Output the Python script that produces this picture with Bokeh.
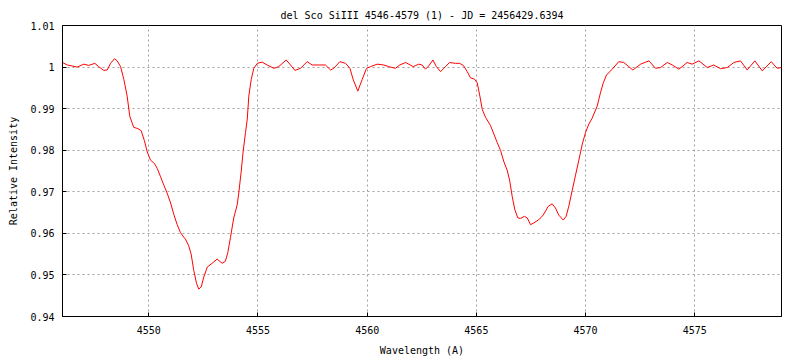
from bokeh.plotting import figure
from bokeh.models import FixedTicker, Range1d, CustomJSTickFormatter
from bokeh.embed import file_html
from bokeh.resources import INLINE

title_text = "del Sco SiIII 4546-4579 (1) - JD = 2456429.6394"
x_label = "Wavelength (A)"
y_label = "Relative Intensity"

x_ticks = [4550, 4555, 4560, 4565, 4570, 4575]
y_ticks = [0.94, 0.95, 0.96, 0.97, 0.98, 0.99, 1.00, 1.01]

wavelength = [
    4546.05, 4546.27, 4546.72, 4547.03, 4547.25, 4547.53, 4547.71, 4547.94, 4548.10, 4548.25,
    4548.43, 4548.55, 4548.71, 4548.86, 4549.01, 4549.13, 4549.31, 4549.50, 4549.65, 4549.80,
    4549.93, 4550.08, 4550.26, 4550.39, 4550.54, 4550.69, 4550.84, 4551.00, 4551.15, 4551.30,
    4551.45, 4551.60, 4551.68, 4551.83, 4551.94, 4552.06, 4552.19, 4552.29, 4552.40, 4552.52,
    4552.68, 4552.90, 4553.13, 4553.36, 4553.51, 4553.62, 4553.74, 4553.89, 4554.05, 4554.12,
    4554.23, 4554.32, 4554.43, 4554.51, 4554.58, 4554.69, 4554.81, 4554.97, 4555.19, 4555.42,
    4555.73, 4555.95, 4556.29, 4556.49, 4556.69, 4556.95, 4557.25, 4557.48, 4557.79, 4558.09,
    4558.32, 4558.47, 4558.75, 4559.01, 4559.21, 4559.36, 4559.57, 4559.77, 4559.97, 4560.15,
    4560.46, 4560.76, 4560.99, 4561.30, 4561.49, 4561.76, 4562.11, 4562.36, 4562.52, 4562.67,
    4562.82, 4563.01, 4563.17, 4563.36, 4563.51, 4563.77, 4564.04, 4564.24, 4564.42, 4564.58,
    4564.73, 4564.91, 4565.04, 4565.16, 4565.27, 4565.42, 4565.65, 4565.80, 4565.95, 4566.11,
    4566.26, 4566.41, 4566.52, 4566.64, 4566.76, 4566.90, 4567.02, 4567.20, 4567.33, 4567.48,
    4567.63, 4567.86, 4568.06, 4568.29, 4568.47, 4568.62, 4568.77, 4568.98, 4569.11, 4569.23,
    4569.39, 4569.54, 4569.69, 4569.85, 4570.00, 4570.15, 4570.30, 4570.53, 4570.68, 4570.81,
    4570.96, 4571.22, 4571.52, 4571.75, 4571.98, 4572.16, 4572.52, 4572.90, 4573.20, 4573.43,
    4573.74, 4573.97, 4574.27, 4574.42, 4574.65, 4574.88, 4575.19, 4575.57, 4575.87, 4576.18,
    4576.49, 4576.79, 4577.09, 4577.40, 4577.75, 4578.09, 4578.50, 4578.77, 4578.97,
]

intensity = [
    1.0011, 1.0005, 1.0000, 1.0007, 1.0004, 1.0009, 1.0001, 0.9992, 0.9993, 1.0009,
    1.0020, 1.0015, 1.0001, 0.9970, 0.9930, 0.9882, 0.9855, 0.9852, 0.9847, 0.9823,
    0.9796, 0.9776, 0.9768, 0.9756, 0.9736, 0.9716, 0.9697, 0.9673, 0.9645, 0.9621,
    0.9602, 0.9591, 0.9586, 0.9570, 0.9550, 0.9511, 0.9479, 0.9466, 0.9471, 0.9495,
    0.9519, 0.9528, 0.9538, 0.9528, 0.9533, 0.9554, 0.9590, 0.9637, 0.9669, 0.9697,
    0.9748, 0.9796, 0.9843, 0.9875, 0.9930, 0.9970, 0.9997, 1.0009, 1.0012, 1.0005,
    0.9997, 1.0001, 1.0017, 1.0005, 0.9992, 0.9997, 1.0013, 1.0005, 1.0005, 1.0005,
    0.9993, 0.9997, 1.0013, 1.0009, 0.9997, 0.9970, 0.9942, 0.9970, 0.9997, 1.0001,
    1.0007, 1.0005, 1.0001, 0.9997, 1.0005, 1.0011, 1.0001, 1.0007, 1.0005, 0.9995,
    1.0003, 1.0017, 1.0001, 0.9989, 0.9997, 1.0011, 1.0009, 1.0009, 1.0003, 0.9989,
    0.9974, 0.9971, 0.9962, 0.9930, 0.9898, 0.9879, 0.9859, 0.9839, 0.9819, 0.9799,
    0.9772, 0.9752, 0.9728, 0.9689, 0.9657, 0.9637, 0.9636, 0.9641, 0.9637, 0.9621,
    0.9625, 0.9633, 0.9644, 0.9665, 0.9671, 0.9661, 0.9644, 0.9632, 0.9641, 0.9665,
    0.9704, 0.9740, 0.9776, 0.9815, 0.9843, 0.9863, 0.9877, 0.9906, 0.9938, 0.9962,
    0.9981, 0.9995, 1.0013, 1.0011, 1.0001, 0.9993, 1.0007, 1.0015, 0.9997, 0.9999,
    1.0011, 1.0005, 0.9995, 1.0001, 1.0011, 1.0007, 1.0015, 0.9999, 1.0005, 0.9996,
    0.9999, 1.0011, 1.0015, 0.9993, 1.0015, 0.9991, 1.0013, 0.9997, 0.9999,
]

FONT = "DejaVu Sans Mono"

p = figure(
    width=792, height=358,
    x_range=Range1d(4546.05, 4578.97),
    y_range=Range1d(0.94, 1.01),
    output_backend="svg", toolbar_location=None,
    min_border_left=62, min_border_right=11, min_border_top=25, min_border_bottom=38,
)
p.title.text = title_text
p.title.align = "center"
p.title.text_font = FONT
p.title.text_font_size = "10px"
p.title.text_font_style = "normal"
p.title.text_color = "black"
p.title.standoff = 9

p.line(wavelength, intensity, line_color="red", line_width=1)

p.outline_line_color = "black"
p.outline_line_width = 1
p.outline_line_alpha = 1
p.background_fill_color = "white"
p.border_fill_color = "white"

for ax in (p.xaxis[0], p.yaxis[0]):
    ax.axis_line_color = "black"
    ax.major_tick_in = 4
    ax.major_tick_out = 0
    ax.minor_tick_line_color = None
    ax.major_tick_line_color = "black"
    ax.major_label_text_font = FONT
    ax.major_label_text_font_size = "10px"
    ax.major_label_text_color = "black"
    ax.axis_label_text_font = FONT
    ax.axis_label_text_font_size = "10px"
    ax.axis_label_text_font_style = "normal"
    ax.axis_label_text_color = "black"

p.xaxis[0].ticker = FixedTicker(ticks=x_ticks)
p.yaxis[0].ticker = FixedTicker(ticks=y_ticks)
p.yaxis[0].formatter = CustomJSTickFormatter(code="return Number(tick.toFixed(2)).toString();")
p.xaxis[0].axis_label = x_label
p.yaxis[0].axis_label = y_label
p.xaxis[0].major_label_standoff = 9
p.xaxis[0].axis_label_standoff = 8
p.yaxis[0].major_label_standoff = 8
p.yaxis[0].axis_label_standoff = 8

for g in (p.xgrid[0], p.ygrid[0]):
    g.grid_line_color = "#a0a0a0"
    g.grid_line_dash = "2 3"
    g.grid_line_width = 1
p.xgrid[0].ticker = FixedTicker(ticks=x_ticks)
p.ygrid[0].ticker = FixedTicker(ticks=y_ticks)

open("out.html", "w").write(file_html(p, INLINE))
